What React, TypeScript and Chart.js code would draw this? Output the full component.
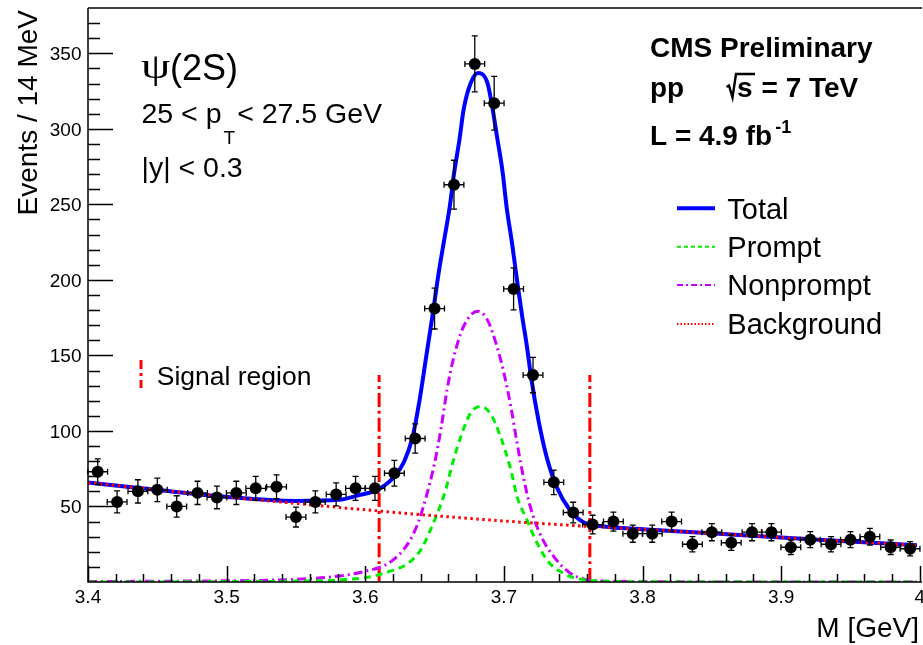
import { useEffect, useRef } from 'react';
import { Chart, registerables } from 'chart.js';

Chart.register(...registerables);

// ---- data ----
const massBins = [
  3.407, 3.421, 3.436, 3.45, 3.464, 3.479, 3.493, 3.507, 3.521, 3.536, 3.55, 3.564, 3.579, 3.593,
  3.607, 3.621, 3.636, 3.65, 3.664, 3.679, 3.693, 3.707, 3.721, 3.736, 3.75, 3.764, 3.779, 3.793,
  3.807, 3.821, 3.836, 3.85, 3.864, 3.879, 3.893, 3.907, 3.921, 3.936, 3.95, 3.964, 3.979, 3.993,
];
const eventCounts = [
  73, 53, 60, 61, 50, 59, 56, 59, 62, 63, 43, 53, 58, 62,
  62, 72, 95, 181, 263, 343, 317, 194, 137, 66, 46, 38, 40, 32,
  32, 40, 25, 33, 26, 33, 33, 23, 28, 25, 28, 30, 23, 22,
];
const countErrors = [
  8.5, 7.3, 7.7, 7.8, 7.1, 7.7, 7.5, 7.7, 7.9, 7.9, 6.6, 7.3, 7.6, 7.9,
  7.9, 8.5, 9.7, 13.5, 16.2, 18.5, 17.8, 13.9, 11.7, 8.1, 6.8, 6.2, 6.3, 5.7,
  5.7, 6.3, 5.0, 5.7, 5.1, 5.7, 5.7, 4.8, 5.3, 5.0, 5.3, 5.5, 4.8, 4.7,
];
const binHalfWidth = 0.00714;

const totalMass = [
  3.4, 3.449, 3.497, 3.55, 3.581, 3.596, 3.609, 3.621, 3.628, 3.634, 3.639, 3.644, 3.649, 3.653,
  3.657, 3.661, 3.664, 3.668, 3.671, 3.676, 3.6815, 3.688, 3.6915, 3.695, 3.699, 3.702, 3.706,
  3.7095, 3.713, 3.7166, 3.72, 3.725, 3.731, 3.738, 3.7476, 3.757, 3.772, 3.8, 3.85, 3.9, 3.95, 4.0,
];
const totalFit = [
  65.8, 61.0, 56.6, 53.7, 54.4, 57.7, 61.0, 69.8, 79.6, 95.5, 119.4, 149.4, 179.4, 204.9,
  226.8, 248.7, 270.2, 293.1, 313.0, 330.2, 336.9, 330.7, 315.2, 295.1, 271.9, 248.0, 223.5,
  199.6, 177.1, 156.0, 133.3, 106.8, 82.2, 63.0, 47.7, 39.8, 36.7, 35.0, 32.2, 29.4, 26.8, 24.2,
];

const promptMass = [
  3.4, 3.5, 3.55, 3.58, 3.604, 3.619, 3.631, 3.64, 3.647, 3.653, 3.658, 3.663, 3.669, 3.676,
  3.683, 3.69, 3.6975, 3.705, 3.7095, 3.7166, 3.724, 3.733, 3.743, 3.75, 3.76, 3.78, 3.8, 4.0,
];
const promptFit = [
  0, 0.2, 0.6, 1.3, 3.5, 7.5, 12.4, 21.2, 34.5, 47.7, 61.0, 78.7, 96.4, 111.9,
  116.2, 111.9, 96.4, 74.3, 56.6, 41.1, 25.7, 12.4, 5.8, 3.0, 1.2, 0.3, 0.1, 0,
];

const nonpromptMass = [
  3.4, 3.45, 3.5, 3.53, 3.55, 3.575, 3.597, 3.6185, 3.631, 3.638, 3.644, 3.65, 3.6545, 3.659,
  3.664, 3.671, 3.681, 3.688, 3.695, 3.7, 3.705, 3.7095, 3.714, 3.719, 3.727, 3.736, 3.747,
  3.76, 3.78, 3.8, 3.9, 4.0,
];
const nonpromptFit = [
  0.3, 0.5, 0.8, 1.2, 1.8, 3.3, 6.5, 13.5, 25.7, 38.9, 56.6, 78.7, 100.8, 127.3,
  149.4, 169.3, 179.2, 173.7, 156.0, 138.4, 116.2, 92.0, 69.8, 50.0, 30.0, 16.8, 6.5,
  1.5, 0.5, 0.2, 0, 0,
];

const bkgMass = [3.4, 3.45, 3.5, 3.55, 3.6, 3.65, 3.7, 3.75, 3.8, 3.85, 3.9, 3.95, 4.0];
const bkgFit = [65.8, 61.0, 56.4, 52.0, 47.8, 43.9, 40.4, 37.4, 34.9, 32.2, 29.4, 26.8, 24.2];

const signalRegion = [3.61, 3.762];
const signalLineTop = 137;

const xTickValues = [3.4, 3.5, 3.6, 3.7, 3.8, 3.9, 4.0];
const xTickLabels = ['3.4', '3.5', '3.6', '3.7', '3.8', '3.9', '4'];
const yTickValues = [50, 100, 150, 200, 250, 300, 350];
const yTickLabels = ['50', '100', '150', '200', '250', '300', '350'];

const legendNames = ['Total', 'Prompt', 'Nonprompt', 'Background'];

// ---- styles ----
const SANS = '"Liberation Sans", Arial, Helvetica, sans-serif';
const BLUE = '#0000ff';
const GREEN = '#00ee00';
const VIOLET = '#cc00ff';
const RED = '#ff0000';
const DASH_PROMPT = [7, 5];
const DASH_NONPROMPT = [9, 4, 2, 4];
const DASH_BKG = [2.5, 3.5];
const DASH_SIGNAL = [14, 4, 3, 4];

const pts = (xs: number[], ys: number[]) => xs.map((x, i) => ({ x, y: ys[i] }));

const rootPlugin = {
  id: 'rootStyle',
  afterDatasetsDraw(chart: any) {
    const { ctx, chartArea: a, scales } = chart;
    const xs = scales.x;
    const ys = scales.y;
    ctx.save();
    // error bars
    ctx.strokeStyle = '#000';
    ctx.lineWidth = 1.3;
    ctx.setLineDash([]);
    for (let i = 0; i < massBins.length; i++) {
      const cx = xs.getPixelForValue(massBins[i]);
      const cy = ys.getPixelForValue(eventCounts[i]);
      const x1 = xs.getPixelForValue(massBins[i] - binHalfWidth);
      const x2 = xs.getPixelForValue(massBins[i] + binHalfWidth);
      const y1 = ys.getPixelForValue(eventCounts[i] + countErrors[i]);
      const y2 = ys.getPixelForValue(eventCounts[i] - countErrors[i]);
      const c = 3;
      ctx.beginPath();
      ctx.moveTo(x1, cy); ctx.lineTo(x2, cy);
      ctx.moveTo(cx, y1); ctx.lineTo(cx, y2);
      ctx.moveTo(x1, cy - c); ctx.lineTo(x1, cy + c);
      ctx.moveTo(x2, cy - c); ctx.lineTo(x2, cy + c);
      ctx.moveTo(cx - c, y1); ctx.lineTo(cx + c, y1);
      ctx.moveTo(cx - c, y2); ctx.lineTo(cx + c, y2);
      ctx.stroke();
    }
    // frame
    ctx.lineWidth = 1.5;
    ctx.beginPath();
    ctx.moveTo(a.left, a.top); ctx.lineTo(a.left, a.bottom); ctx.lineTo(a.right + 5, a.bottom);
    ctx.moveTo(a.left, a.top); ctx.lineTo(a.right + 5, a.top);
    ctx.stroke();
    // y ticks
    ctx.beginPath();
    for (let v = 10; v < ys.max; v += 10) {
      const y = Math.round(ys.getPixelForValue(v)) + 0.5;
      const len = v % 50 === 0 ? 25 : 12;
      ctx.moveTo(a.left, y); ctx.lineTo(a.left + len, y);
    }
    // x ticks
    for (let k = 0; k <= 30; k++) {
      const v = 3.4 + 0.02 * k;
      const x = Math.round(xs.getPixelForValue(v)) + 0.5;
      const len = k % 5 === 0 ? 16 : 8;
      ctx.moveTo(x, a.bottom); ctx.lineTo(x, a.bottom - len);
    }
    ctx.stroke();
    // tick labels
    ctx.fillStyle = '#000';
    ctx.font = `19px ${SANS}`;
    ctx.textAlign = 'right';
    ctx.textBaseline = 'alphabetic';
    yTickValues.forEach((v, i) => {
      ctx.fillText(yTickLabels[i], a.left - 6.5, ys.getPixelForValue(v) + 6.8);
    });
    ctx.textAlign = 'center';
    xTickValues.forEach((v, i) => {
      ctx.fillText(xTickLabels[i], xs.getPixelForValue(v), a.bottom + 21);
    });
    ctx.restore();
  },
  afterDraw(chart: any) {
    const { ctx } = chart;
    ctx.save();
    ctx.fillStyle = '#000';
    ctx.textBaseline = 'alphabetic';
    ctx.textAlign = 'left';
    // axis titles
    ctx.save();
    ctx.translate(36.5, 10);
    ctx.rotate(-Math.PI / 2);
    ctx.textAlign = 'right';
    ctx.font = `28px ${SANS}`;
    ctx.fillText('Events / 14 MeV', 0, 0);
    ctx.restore();
    ctx.textAlign = 'right';
    ctx.font = `28px ${SANS}`;
    ctx.fillText('M [GeV]', 919, 637);
    ctx.textAlign = 'left';

    // left block
    ctx.save();
    ctx.translate(141, 78);
    ctx.scale(1.3, 1);
    ctx.font = `36px "Liberation Serif", "DejaVu Serif", serif`;
    ctx.fillText('ψ', 0, 0);
    ctx.restore();
    ctx.font = `36px ${SANS}`;
    ctx.fillText('(2S)', 170, 80);
    ctx.font = `28.5px ${SANS}`;
    const s1 = '25 < p';
    ctx.fillText(s1, 141.5, 122.7);
    const w1 = ctx.measureText(s1).width;
    ctx.font = `19px ${SANS}`;
    ctx.fillText('T', 141.5 + w1 + 2, 144);
    const wT = ctx.measureText('T').width;
    ctx.font = `28.5px ${SANS}`;
    ctx.fillText('< 27.5 GeV', 141.5 + w1 + 2 + wT + 2, 122.7);
    ctx.fillText('|y| < 0.3', 141.5, 176.7);

    // right block (bold)
    ctx.font = `bold 28px ${SANS}`;
    ctx.fillText('CMS Preliminary', 650, 57.3);
    ctx.fillText('pp', 650, 97.3);
    ctx.fillText('s', 737, 97.3);
    ctx.fillText('= 7 TeV', 761.5, 97.3);
    ctx.strokeStyle = '#000';
    ctx.lineWidth = 2.4;
    ctx.setLineDash([]);
    ctx.beginPath();
    ctx.moveTo(726.5, 87);
    ctx.lineTo(729, 85.5);
    ctx.lineTo(732.5, 97.5);
    ctx.lineTo(736, 74);
    ctx.lineTo(755, 74);
    ctx.stroke();
    ctx.fillText('L = 4.9 fb', 650, 145);
    const wL = ctx.measureText('L = 4.9 fb').width;
    ctx.font = `bold 18px ${SANS}`;
    ctx.fillText('-1', 650 + wL + 3, 133);

    // legend
    const legY = [208.3, 246.7, 285, 324];
    const legStyles = [
      { c: BLUE, w: 4, d: [] as number[] },
      { c: GREEN, w: 2, d: [4, 3] },
      { c: VIOLET, w: 2, d: [6, 3, 2, 3] },
      { c: RED, w: 2, d: [1.5, 2] },
    ];
    legendNames.forEach((name, i) => {
      const st = legStyles[i];
      ctx.strokeStyle = st.c;
      ctx.lineWidth = st.w;
      ctx.setLineDash(st.d);
      ctx.beginPath();
      ctx.moveTo(677, legY[i]);
      ctx.lineTo(715, legY[i]);
      ctx.stroke();
      ctx.setLineDash([]);
      ctx.font = `29px ${SANS}`;
      ctx.fillStyle = '#000';
      ctx.fillText(name, 727.3, legY[i] + 10.3);
    });

    // signal region marker
    ctx.strokeStyle = RED;
    ctx.lineWidth = 3;
    ctx.setLineDash([9, 4, 3, 4]);
    ctx.beginPath();
    ctx.moveTo(141, 360);
    ctx.lineTo(141, 388);
    ctx.stroke();
    ctx.setLineDash([]);
    ctx.font = `26.5px ${SANS}`;
    ctx.fillStyle = '#000';
    ctx.fillText('Signal region', 156.7, 385);
    ctx.restore();
  },
};

export default function App() {
  const ref = useRef<HTMLCanvasElement | null>(null);
  useEffect(() => {
    if (!ref.current) return;
    const line = (data: any[], color: string, width: number, dash: number[]) => ({
      data,
      showLine: true,
      borderColor: color,
      backgroundColor: color,
      borderWidth: width,
      borderDash: dash,
      borderCapStyle: 'butt',
      pointRadius: 0,
      pointHoverRadius: 0,
      fill: false,
      cubicInterpolationMode: 'monotone',
    });
    const chart = new Chart(ref.current, {
      type: 'scatter',
      data: {
        datasets: [
          {
            data: pts(massBins, eventCounts),
            pointRadius: 6,
            pointHoverRadius: 6,
            pointBackgroundColor: '#000',
            pointBorderWidth: 0,
            showLine: false,
          } as any,
          line(pts(bkgMass, bkgFit), RED, 3, DASH_BKG),
          line(pts(promptMass, promptFit), GREEN, 3, DASH_PROMPT),
          line(pts(nonpromptMass, nonpromptFit), VIOLET, 3, DASH_NONPROMPT),
          line(pts(totalMass, totalFit), BLUE, 4, []),
          line([{ x: signalRegion[0], y: 0 }, { x: signalRegion[0], y: signalLineTop }], RED, 3, DASH_SIGNAL),
          line([{ x: signalRegion[1], y: 0 }, { x: signalRegion[1], y: signalLineTop }], RED, 3, DASH_SIGNAL),
        ] as any,
      },
      options: {
        responsive: false,
        animation: false,
        devicePixelRatio: 1,
        layout: { padding: { left: 88, right: 0, top: 8, bottom: 63 } },
        scales: {
          x: { type: 'linear', min: 3.4, max: 3.998, display: false },
          y: { type: 'linear', min: 0, max: 380, display: false },
        },
        plugins: { legend: { display: false }, tooltip: { enabled: false } },
        events: [],
      },
      plugins: [rootPlugin],
    } as any);
    return () => chart.destroy();
  }, []);
  return (
    <div style={{ position: 'absolute', left: 0, top: 0, width: 923, height: 645, background: '#fff' }}>
      <canvas ref={ref} width={923} height={645} style={{ display: 'block' }} />
    </div>
  );
}
